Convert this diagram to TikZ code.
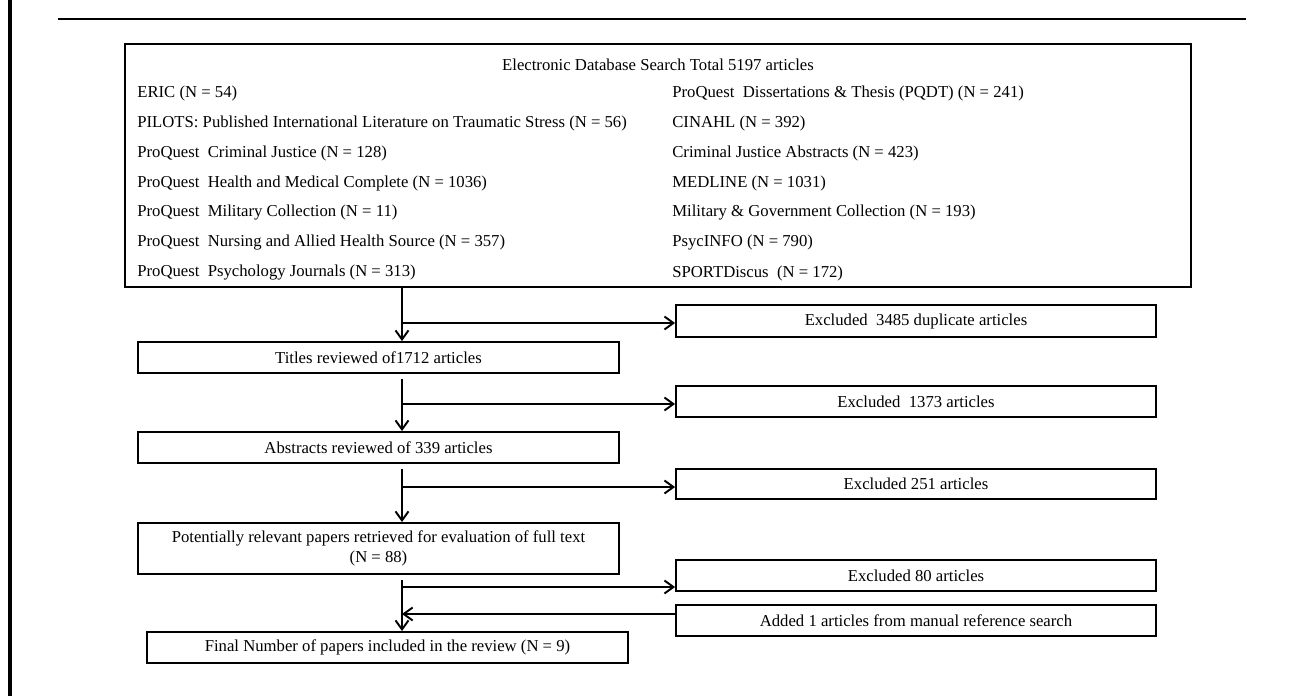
\documentclass[tikz,border=0pt]{standalone}
\usepackage{fontspec}
\setmainfont{Liberation Serif}
\usetikzlibrary{arrows.meta}

\begin{document}
\begin{tikzpicture}[x=0.02cm, y=-0.02cm,
    font=\fontsize{9.5}{11.4}\selectfont,
    stage/.style={draw, line width=1.1pt, inner sep=0pt, minimum width=9.62cm, minimum height=0.62cm, align=center},
    dbentry/.style={anchor=west, inner sep=0pt},
    flow/.style={line width=1.1pt, -{Straight Barb[length=1.8mm, width=2.6mm, line width=1.1pt]}}]
    \useasboundingbox (0,0) rectangle (1291,696);
    \draw[line width=2.3pt] (10,0) -- (10,696);
    \draw[line width=1.3pt] (58,19) -- (1246,19);

    \node[draw, line width=1.1pt, inner sep=0pt, minimum width=21.32cm, minimum height=4.86cm] (db) at (658,165.5) {};
    \node (dbtitle) at (658,65) {Electronic Database Search Total 5197 articles};
    \node[dbentry] (eric) at (137,93) {ERIC (N = 54)};
    \node[dbentry] (pilots) at (137,123) {PILOTS: Published International Literature on Traumatic Stress (N = 56)};
    \node[dbentry] (pqcj) at (137,153) {ProQuest\ \ Criminal Justice (N = 128)};
    \node[dbentry] (pqhm) at (137,183) {ProQuest\ \ Health and Medical Complete (N = 1036)};
    \node[dbentry] (pqmil) at (137,213) {ProQuest\ \ Military Collection (N = 11)};
    \node[dbentry] (pqnah) at (137,243) {ProQuest\ \ Nursing and Allied Health Source (N = 357)};
    \node[dbentry] (pqpsy) at (137,273) {ProQuest\ \ Psychology Journals (N = 313)};
    \node[dbentry] (pqdt) at (672,93) {ProQuest\ \ Dissertations \& Thesis (PQDT) (N = 241)};
    \node[dbentry] (cinahl) at (672,123) {CINAHL (N = 392)};
    \node[dbentry] (cja) at (672,153) {Criminal Justice Abstracts (N = 423)};
    \node[dbentry] (medline) at (672,183) {MEDLINE (N = 1031)};
    \node[dbentry] (mgc) at (672,213) {Military \& Government Collection (N = 193)};
    \node[dbentry] (psycinfo) at (672,243) {PsycINFO (N = 790)};
    \node[dbentry] (sport) at (672,273) {SPORTDiscus\ \ (N = 172)};

    \node[stage] (titles) at (378.5,357.5) {Titles reviewed of1712 articles};
    \node[stage] (abstr) at (378.5,447.5) {Abstracts reviewed of 339 articles};
    \node[stage, minimum height=1.02cm] (fulltext) at (378.5,548.5) {Potentially relevant papers retrieved for evaluation of full text\\(N = 88)};
    \node[stage] (final) at (387.5,647.5) {Final Number of papers included in the review (N = 9)};

    \node[stage, minimum width=9.6cm, minimum height=0.64cm] (exdup) at (916,321) {Excluded\ \ 3485 duplicate articles};
    \node[stage, minimum width=9.6cm] (extitle) at (916,401.5) {Excluded\ \ 1373 articles};
    \node[stage, minimum width=9.6cm, minimum height=0.6cm] (exabstr) at (916,484) {Excluded 251 articles};
    \node[stage, minimum width=9.6cm] (exfull) at (916,575.5) {Excluded 80 articles};
    \node[stage, minimum width=9.6cm] (added) at (916,620.5) {Added 1 articles from manual reference search};

    \coordinate (j1) at (402,323);
    \coordinate (j2) at (402,404);
    \coordinate (j3) at (402,487);
    \coordinate (j4) at (402,587);
    \coordinate (j5) at (402,614);

    \draw[flow] (db.south -| j1) -- (titles.north -| j1);
    \draw[flow] (j1) -- (j1 -| exdup.west);
    \draw[flow, shorten <=2.8pt] (titles.south -| j2) -- (abstr.north -| j2);
    \draw[flow] (j2) -- (j2 -| extitle.west);
    \draw[flow, shorten <=2.8pt] (abstr.south -| j3) -- (fulltext.north -| j3);
    \draw[flow] (j3) -- (j3 -| exabstr.west);
    \draw[flow, shorten <=2.8pt] (fulltext.south -| j4) -- (final.north -| j4);
    \draw[flow] (j4) -- (j4 -| exfull.west);
    \draw[flow] (j5 -| added.west) -- (j5);
\end{tikzpicture}
\end{document}
